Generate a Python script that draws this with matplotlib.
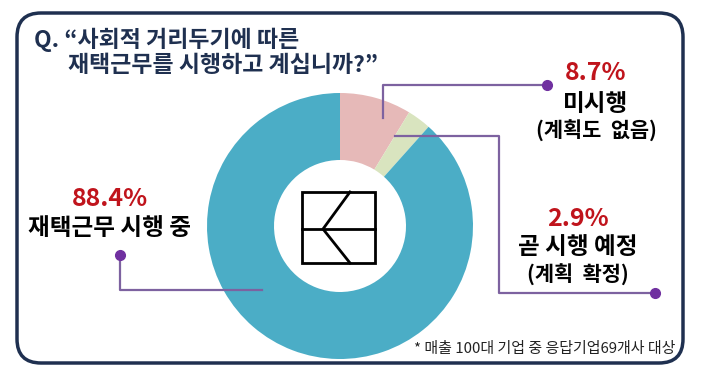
import matplotlib.pyplot as plt
from matplotlib.patches import FancyBboxPatch, Rectangle

plt.rcParams['font.family'] = ['Noto Sans CJK KR', 'DejaVu Sans']

labels = ['미시행', '곧 시행 예정', '재택근무 시행 중']
sublabels = ['(계획도  없음)', '(계획  확정)', '']
values = [8.7, 2.9, 88.4]
colors = ['#e6b9b8', '#d9e4bf', '#4badc6']

W, H = 703, 377
navy = '#1f3050'
red = '#c0141c'
purple_line = '#7d62a0'
purple_dot = '#7030a0'

fig = plt.figure(figsize=(W / 100, H / 100), dpi=100)
ax = fig.add_axes([0, 0, 1, 1])


def Y(y):
    # pixel row from top -> data y
    return H - y


# donut
cx, cy, r_out, r_in = 340, 226, 133, 66
ax.pie(values, colors=colors, startangle=90, counterclock=False,
       radius=r_out, center=(cx, Y(cy)),
       wedgeprops=dict(width=r_out - r_in, linewidth=0))

# rounded frame
frame = FancyBboxPatch((17 + 24, Y(363) + 24), 666 - 48, 350 - 48,
                       boxstyle='round,pad=24', fill=False,
                       edgecolor=navy, linewidth=2.5, zorder=5)
ax.add_patch(frame)

# logo in the hole
ax.add_patch(Rectangle((302, Y(263)), 73, 71, fill=False, edgecolor='black',
                       linewidth=2, zorder=6))
ax.plot([302, 375], [Y(229), Y(229)], color='black', lw=2, zorder=6)
ax.plot([350, 323, 350], [Y(192), Y(229), Y(263)], color='black', lw=2, zorder=6)

# title
ax.text(34, Y(40), 'Q. “사회적 거리두기에 따른', fontsize=16.5, fontweight='bold',
        color=navy, va='center', ha='left')
ax.text(68, Y(66), '재택근무를 시행하고 계십니까?”', fontsize=16.5, fontweight='bold',
        color=navy, va='center', ha='left')

# leader lines
lc = dict(color=purple_line, lw=1.6, zorder=4)
ax.plot([383, 383, 547], [Y(118), Y(85), Y(85)], **lc)
ax.plot(547, Y(85), 'o', color=purple_dot, ms=7, zorder=6)
ax.plot([395, 499, 499, 655], [Y(136), Y(136), Y(293), Y(293)], **lc)
ax.plot(655, Y(293), 'o', color=purple_dot, ms=7, zorder=6)
ax.plot([120, 120, 262], [Y(255), Y(290), Y(290)], **lc)
ax.plot(120, Y(255), 'o', color=purple_dot, ms=7, zorder=6)

# labels: (x centre, y of percentage, y of name, y of note)
label_pos = [(596, 73, 104, 131), (578, 219, 247, 275), (110, 199, 228, 0)]
for lab, sub, val, (x, y1, y2, y3) in zip(labels, sublabels, values, label_pos):
    ax.text(x, Y(y1), f'{val}%', fontsize=18, fontweight='bold', color=red,
            ha='center', va='center')
    ax.text(x, Y(y2), lab, fontsize=17, fontweight='bold', color='black',
            ha='center', va='center')
    if sub:
        ax.text(x, Y(y3), sub, fontsize=15, fontweight='bold', color='black',
                ha='center', va='center')

ax.text(675, Y(349), '* 매출 100대 기업 중 응답기업69개사 대상', fontsize=10.8,
        color='#222222', ha='right', va='center', zorder=6)

ax.set_xlim(0, W)
ax.set_ylim(0, H)
ax.set_aspect('auto')
ax.axis('off')

fig.savefig('out.png', dpi=100)
